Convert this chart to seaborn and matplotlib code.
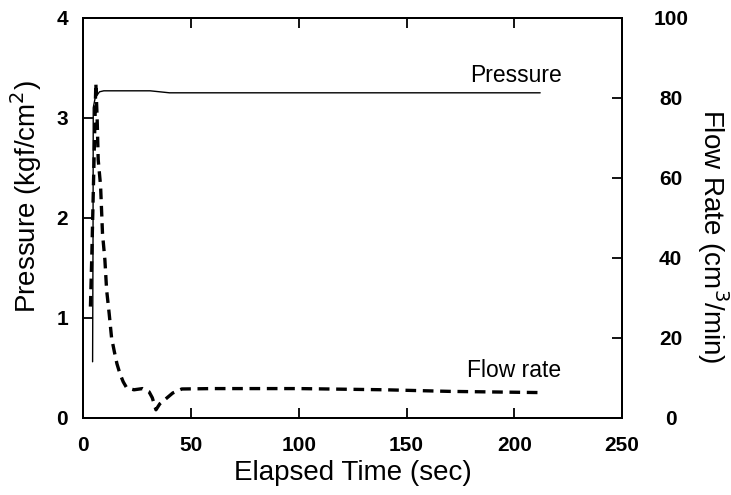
"""Pressure and flow rate against elapsed time, twin y axes."""
import matplotlib
matplotlib.use("Agg")
import matplotlib.pyplot as plt
import pandas as pd
import seaborn as sns

# pressure trace (kgf/cm2)
PRESSURE_T = [4.3, 4.5, 4.6, 5.5, 7.5, 9.5, 20, 31, 40, 60, 100, 150, 212]
PRESSURE = [0.56, 1.8, 3.1, 3.2, 3.26, 3.27, 3.27, 3.27, 3.25, 3.25, 3.25, 3.25, 3.25]

# flow rate trace (cm3/min)
FLOW_T = [3.3, 4.0, 4.6, 5.2, 5.8, 6.4, 6.9, 8.0, 8.9, 10.0, 10.8, 12.0, 13.1,
          14.4, 15.6, 17.0, 18.5, 20.1, 23.5, 27.5, 30.5, 32.0, 33.7, 35.5,
          38.2, 41.5, 45.7, 60, 100, 140, 170, 212]
FLOW = [27.8, 42, 56, 70, 83.7, 75, 64.5, 58, 46, 39.5, 32, 26, 20,
        16.5, 13.5, 11, 9, 7.5, 7.0, 7.3, 6.5, 5.0, 2.0, 3.5,
        4.7, 6.2, 7.2, 7.3, 7.3, 7.0, 6.6, 6.3]

X_TICKS = [0, 50, 100, 150, 200, 250]
P_TICKS = [0, 1, 2, 3, 4]
F_TICKS = [0, 20, 40, 60, 80, 100]

sns.set_theme(style="ticks")
plt.rcParams["font.family"] = ["Liberation Sans", "DejaVu Sans"]
plt.rcParams["axes.linewidth"] = 1.4
plt.rcParams["text.color"] = "black"
plt.rcParams["axes.labelcolor"] = "black"
plt.rcParams["xtick.color"] = "black"
plt.rcParams["ytick.color"] = "black"

pres = pd.DataFrame({"t": PRESSURE_T, "p": PRESSURE})
flow = pd.DataFrame({"t": FLOW_T, "f": FLOW})

fig = plt.figure(figsize=(7.31, 4.95), dpi=100)
ax = fig.add_axes([0.114, 0.156, 0.737, 0.808])
ax2 = ax.twinx()

sns.lineplot(data=pres, x="t", y="p", ax=ax, color="black", linewidth=1.0,
             estimator=None, sort=False)
sns.lineplot(data=flow, x="t", y="f", ax=ax2, color="black", linewidth=2.4,
             estimator=None, sort=False, dashes=False, linestyle=(0, (3.2, 2.0)))

ax.set_xlim(0, 250)
ax.set_ylim(0, 4)
ax2.set_ylim(0, 100)
ax.set_xticks(X_TICKS)
ax.set_yticks(P_TICKS)
ax2.set_yticks(F_TICKS)

tick_font = dict(fontsize=15, fontweight="bold", color="black")
ax.set_xticklabels([str(v) for v in X_TICKS], **tick_font)
ax.set_yticklabels([str(v) for v in P_TICKS], **tick_font)
ax2.set_yticklabels([str(v) for v in F_TICKS], ha="center", **tick_font)

ax.tick_params(axis="x", direction="in", length=7, width=1.3, pad=13, top=True)
ax.tick_params(axis="y", direction="in", length=7, width=1.3, pad=11)
ax2.tick_params(axis="y", direction="in", length=7, width=1.3, pad=35)

ax.set_xlabel("Elapsed Time (sec)", fontsize=20, labelpad=4)
ax.set_ylabel("Pressure (kgf/cm$^2$)", fontsize=20, va="center")
ax.yaxis.set_label_coords(-0.107, 0.553)
ax2.set_ylabel("Flow Rate (cm$^3$/min)", fontsize=20, rotation=270, va="center")
ax2.yaxis.set_label_coords(1.168, 0.455)

ax.text(179.4, 3.36, "Pressure", fontsize=16.5, ha="left", va="baseline")
ax.text(178, 0.41, "Flow rate", fontsize=16.5, ha="left", va="baseline")

for a in (ax, ax2):
    a.grid(False)
    for s in a.spines.values():
        s.set_visible(True)
        s.set_color("black")

fig.savefig("out.png", dpi=100)
